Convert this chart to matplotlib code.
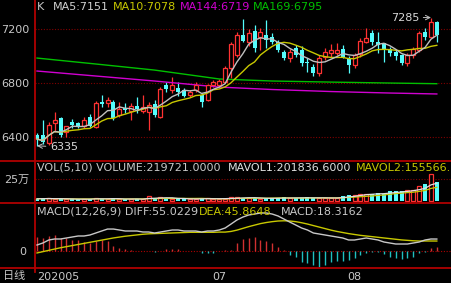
import matplotlib
matplotlib.use("Agg")
import matplotlib.pyplot as plt
import numpy as np
import pandas as pd
from matplotlib.lines import Line2D

plt.rcParams['font.family'] = ['DejaVu Sans', 'Noto Sans CJK SC']

# ---- data (daily candles, 2020-05-18 .. 2020-08-21) ----
opens = [6415, 6415, 6356, 6504, 6541, 6437, 6511, 6504, 6481, 6548,
         6474, 6659, 6652, 6659, 6563, 6615, 6593, 6630, 6593, 6585,
         6644, 6548, 6785, 6748, 6763, 6748, 6711, 6748, 6711, 6674,
         6785, 6785, 6807, 6911, 7007, 7156, 7104, 7185, 7141, 7156,
         7141, 7104, 7030, 6985, 7059, 7044, 6956, 6919, 6874, 6993,
         7022, 7022, 7052, 6985, 6933, 7015, 7104, 7170, 7104, 7096,
         7052, 7030, 7007, 6948, 7007, 7044, 7178, 7141, 7252]
highs = [6430, 6526, 6511, 6585, 6550, 6474, 6533, 6511, 6548, 6570,
         6667, 6711, 6696, 6674, 6659, 6652, 6652, 6696, 6711, 6659,
         6674, 6770, 6807, 6844, 6807, 6763, 6748, 6807, 6726, 6792,
         6822, 6829, 6926, 7104, 7178, 7274, 7200, 7230, 7207, 7267,
         7170, 7119, 7044, 7052, 7081, 7074, 6985, 6941, 7007, 7059,
         7089, 7096, 7081, 7000, 7022, 7133, 7207, 7193, 7178, 7096,
         7067, 7044, 7015, 7022, 7067, 7185, 7207, 7285, 7259]
lows = [6335, 6350, 6340, 6437, 6400, 6400, 6467, 6467, 6467, 6474,
        6467, 6622, 6622, 6526, 6548, 6578, 6526, 6578, 6578, 6452,
        6548, 6541, 6733, 6726, 6704, 6696, 6696, 6733, 6622, 6667,
        6770, 6770, 6800, 6837, 6993, 7104, 7074, 7030, 7044, 7059,
        7089, 7030, 6970, 6956, 6993, 6926, 6881, 6852, 6852, 6970,
        6993, 7007, 6985, 6874, 6911, 6993, 7096, 7081, 7022, 6956,
        7000, 6970, 6933, 6926, 6985, 7030, 7119, 7133, 7104]
closes = [6385, 6363, 6489, 6526, 6415, 6481, 6489, 6481, 6526, 6481,
          6652, 6644, 6674, 6541, 6607, 6600, 6630, 6607, 6622, 6637,
          6563, 6756, 6756, 6785, 6733, 6704, 6733, 6785, 6659, 6785,
          6807, 6815, 6911, 7089, 7156, 7111, 7170, 7059, 7178, 7119,
          7104, 7044, 6985, 7030, 7007, 6948, 6948, 6874, 6985, 7030,
          7044, 7044, 6993, 6933, 7007, 7111, 7133, 7104, 7081, 7044,
          7022, 7000, 6948, 7007, 7052, 7170, 7141, 7252, 7156]
volumes = [25000, 28000, 30000, 22000, 26000, 18000, 20000, 18000, 22000, 24000,
           38000, 22000, 18000, 32000, 20000, 18000, 24000, 20000, 24000, 55000,
           32000, 42000, 28000, 24000, 22000, 26000, 20000, 22000, 30000, 34000,
           22000, 20000, 28000, 42000, 46000, 36000, 32000, 30000, 28000, 30000,
           34000, 36000, 40000, 30000, 34000, 38000, 40000, 36000, 30000, 34000,
           32000, 38000, 57000, 68000, 70000, 80000, 85000, 80000, 91000, 80000,
           114000, 114000, 114000, 125000, 120000, 170000, 193000, 307000, 219721]

# long moving averages (history is off-chart): read at a few candles
ma_long_idx = [0, 10, 20, 31, 40, 50, 60, 68]
ma144 = [6889, 6852, 6815, 6770, 6752, 6737, 6726, 6719]
ma169 = [6985, 6941, 6896, 6830, 6815, 6807, 6800, 6795]

# MACD lines / histogram
diff = [27.6, 36.8, 50.6, 55.2, 55.2, 59.8, 64.4, 69.0, 69.0, 73.6,
        82.8, 92.0, 101.0, 101.0, 96.6, 92.0, 92.0, 92.0, 87.4, 87.4,
        82.8, 87.4, 92.0, 96.6, 96.6, 92.0, 92.0, 92.0, 87.4, 92.0,
        92.0, 96.6, 105.8, 124.0, 142.6, 156.0, 165.6, 170.0, 174.8, 174.8,
        170.0, 161.0, 147.0, 133.0, 119.6, 105.8, 96.6, 82.8, 78.2, 73.6,
        69.0, 64.4, 59.8, 50.6, 50.6, 55.2, 59.8, 55.2, 50.6, 41.4,
        36.8, 32.2, 32.2, 32.2, 36.8, 41.4, 50.6, 55.2, 55.02]
dea = [-9, -3, 3, 9, 15, 20, 25, 30, 35, 40,
       45, 50, 55, 60, 64, 68, 71, 74, 77, 79,
       80, 81, 82, 83, 84, 85, 86, 86, 86, 86,
       86, 87, 87, 90, 96, 104, 112, 119, 126, 131,
       135, 138, 139, 138, 135, 130, 124, 117, 110, 103,
       96, 90, 85, 80, 76, 72, 69, 66, 63, 60,
       57, 54, 51, 49, 47, 46, 46, 46, 45.86]
macd = [64, 60, 69, 74, 60, 60, 51, 51, 41, 37,
        46, 51, 46, 23, 14, 9, 5, 2, 1, 1,
        -5, 1, 9, 9, 7, 2, 1, 1, -9, -9,
        -7, 1, 5, 5, 37, 55, 60, 64, 51, 46,
        37, 18, 5, -18, -28, -51, -55, -64, -74, -64,
        -51, -46, -46, -41, -32, -18, -7, -5, -5, -14,
        -28, -32, -37, -32, -28, -9, -5, 14, 18.3]

date_pos = [0, 31, 54]
date_labels = ['202005', '07', '08']

UP = '#ff3232'
DOWN = '#54fcfc'
GRID = '#800000'
BORDER = '#b00000'
TXT = '#c8c8c8'
YEL = '#c8c800'
W, H = 452, 283

n = len(closes)
x = np.arange(n)
o, h, l, c = map(np.array, (opens, highs, lows, closes))
up = c >= o
vol = np.array(volumes, dtype=float)

ma5 = pd.Series(c).rolling(5, min_periods=1).mean()
ma10 = pd.Series(c).rolling(10, min_periods=1).mean()
mavol1 = pd.Series(vol).rolling(5, min_periods=1).mean()
mavol2 = pd.Series(vol).rolling(10, min_periods=1).mean()


def fx(px):
    return px / W


def fy(py):
    return 1 - py / H


fig = plt.figure(figsize=(W / 100, H / 100), dpi=100, facecolor='black')
left, width = fx(35), fx(417)
ax_k = fig.add_axes([left, fy(160), width, 160 / H])
ax_v = fig.add_axes([left, fy(203), width, 42 / H])
ax_m = fig.add_axes([left, fy(268), width, 65 / H])

xlim = (-0.34, 70.58)
bw = 0.68
for ax in (ax_k, ax_v, ax_m):
    ax.set_facecolor('black')
    ax.set_xlim(*xlim)
    for s in ax.spines.values():
        s.set_visible(False)
    ax.tick_params(length=0, colors=TXT, labelsize=8, pad=4)
    ax.set_xticks([])

# ---- candles ----
body_lo = np.minimum(o, c)
body_hi = np.maximum(o, c)
ax_k.vlines(x[up], l[up], body_lo[up], color=UP, lw=0.9)
ax_k.vlines(x[up], body_hi[up], h[up], color=UP, lw=0.9)
ax_k.vlines(x[~up], l[~up], h[~up], color=DOWN, lw=0.9)
ax_k.bar(x[up], np.maximum(body_hi[up] - body_lo[up], 3), bw, bottom=body_lo[up],
         facecolor='black', edgecolor=UP, linewidth=0.9, zorder=3)
ax_k.bar(x[~up], np.maximum(body_hi[~up] - body_lo[~up], 3), bw, bottom=body_lo[~up],
         color=DOWN, linewidth=0, zorder=3)
ax_k.plot(ma_long_idx, ma169, color='#00c000', lw=1.0)
ax_k.plot(ma_long_idx, ma144, color='#d000d0', lw=1.0)
ax_k.plot(x, ma10, color=YEL, lw=1.0, zorder=4)
ax_k.plot(x, ma5, color='#c0c0c0', lw=1.0, zorder=4)
ax_k.set_ylim(6230, 7415)
ax_k.set_yticks([6400, 6800, 7200])
ax_k.grid(True, axis='y', color=GRID, linestyle=(0, (1, 1.5)), lw=0.8)
ax_k.set_axisbelow(True)

i_hi = int(np.argmax(h))
i_lo = int(np.argmin(l))
ax_k.annotate(f'{h[i_hi]:.0f}', xy=(i_hi, h[i_hi]), xytext=(i_hi - 2.0, h[i_hi]),
              color='#d8d8d8', fontsize=8, ha='right', va='center',
              arrowprops=dict(arrowstyle='->', color='#c0c0c0', lw=0.7,
                              shrinkA=1, shrinkB=0))
ax_k.annotate(f'{l[i_lo]:.0f}', xy=(i_lo, l[i_lo]), xytext=(i_lo + 2.2, l[i_lo] - 10),
              color='#d8d8d8', fontsize=8, ha='left', va='center',
              arrowprops=dict(arrowstyle='->', color='#c0c0c0', lw=0.7,
                              shrinkA=1, shrinkB=0))

# ---- volume ----
ax_v.bar(x[up], vol[up], bw, facecolor='black', edgecolor=UP, linewidth=0.9)
ax_v.bar(x[~up], vol[~up], bw, color=DOWN, linewidth=0)
ax_v.plot(x, mavol2, color=YEL, lw=0.9)
ax_v.plot(x, mavol1, color='#e0e0e0', lw=0.9)
ax_v.set_ylim(-22700, 454500)
ax_v.set_yticks([250000], ['25万'])
ax_v.grid(True, axis='y', color=GRID, linestyle=(0, (1, 1.5)), lw=0.8)
ax_v.set_axisbelow(True)

# ---- MACD ----
macd_a = np.array(macd)
ax_m.vlines(x[macd_a >= 0], 0, macd_a[macd_a >= 0], color='#d03030', lw=1.0)
ax_m.vlines(x[macd_a < 0], 0, macd_a[macd_a < 0], color='#20c0c0', lw=1.0)
ax_m.plot(x, dea, color=YEL, lw=1.0)
ax_m.plot(x, diff, color='#c8c8c8', lw=1.0)
ax_m.set_ylim(-78.2, 220.8)
ax_m.set_yticks([0], ['0'])
ax_m.tick_params(axis='y', pad=6)
ax_m.axhline(0, color=BORDER, linestyle=(0, (1, 1.5)), lw=0.8, zorder=0)
ax_m.set_xticks(date_pos, date_labels)
ax_m.tick_params(axis='x', pad=3)
ax_m.get_xticklabels()[0].set_ha('left')

# ---- frame lines ----
for y in (161, 203, 268):
    fig.add_artist(Line2D([0, 1], [fy(y), fy(y)], color=BORDER, lw=1.3))
fig.add_artist(Line2D([fx(35), fx(35)], [fy(0), fy(272)], color=BORDER, lw=1.3))

# ---- header texts ----
def head(px, py, s, col):
    fig.text(fx(px), fy(py), s, color=col, fontsize=8, va='center', ha='left')


head(37, 7, 'K', TXT)
head(53, 7, 'MA5:7151', '#d0d0d0')
head(113, 7, 'MA10:7078', YEL)
head(180, 7, 'MA144:6719', '#d000d0')
head(253, 7, 'MA169:6795', '#00c000')
head(37, 168, 'VOL(5,10) VOLUME:219721.0000', TXT)
head(228, 168, 'MAVOL1:201836.6000', '#e0e0e0')
head(356, 168, 'MAVOL2:155566.8000', YEL)
head(37, 212, 'MACD(12,26,9) DIFF:55.0229', TXT)
head(199, 212, 'DEA:45.8648', YEL)
head(281, 212, 'MACD:18.3162', TXT)
head(3, 276, '日线', TXT)

fig.savefig('out.png', dpi=100, facecolor='black')
